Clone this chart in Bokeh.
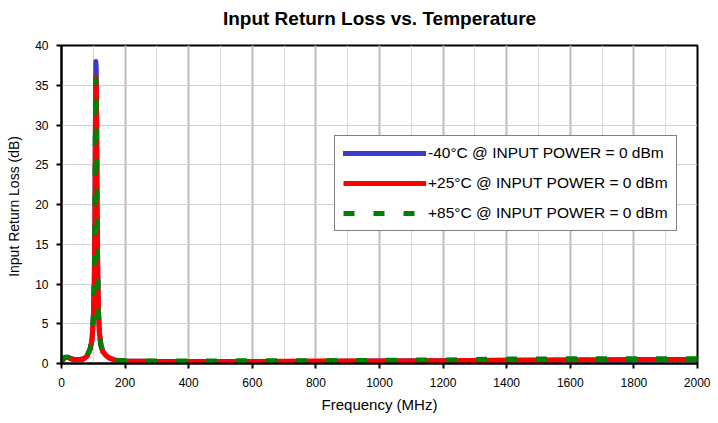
from bokeh.plotting import figure
from bokeh.models import Legend, LegendItem, SingleIntervalTicker, Range1d, Title
from bokeh.embed import file_html
from bokeh.resources import INLINE

title_text = "Input Return Loss vs. Temperature"
x_label = "Frequency (MHz)"
y_label = "Input Return  Loss (dB)"
series_names = ["-40°C @ INPUT POWER = 0 dBm",
                "+25°C @ INPUT POWER = 0 dBm",
                "+85°C @ INPUT POWER = 0 dBm"]

freq_mhz = [0, 5, 10, 20, 30, 40, 50, 60, 70, 80, 90, 96, 100, 103, 105, 106, 107,
            108, 109, 110, 111, 112, 114, 116, 119, 124, 130, 140, 150, 170, 200,
            300, 400, 600, 800, 1000, 1200, 1400, 1600, 1800, 2000]

rl_m40 = [0.2, 0.5, 0.7, 0.8, 0.6, 0.5, 0.5, 0.5, 0.6, 0.9, 1.8, 3.0, 5.5, 10.0, 18.0, 26.0, 33.0,
          38.0, 37.5, 35.0, 28.0, 20.0, 12.0, 7.0, 4.0, 2.4, 1.5, 1.0, 0.7, 0.4, 0.3,
          0.25, 0.2, 0.2, 0.25, 0.3, 0.35, 0.4, 0.45, 0.45, 0.5]

rl_p25 = [0.2, 0.5, 0.7, 0.8, 0.6, 0.5, 0.5, 0.5, 0.6, 0.9, 1.8, 3.0, 5.5, 10.0, 17.0, 25.0, 32.0,
          36.0, 35.5, 33.0, 27.0, 19.0, 11.5, 6.8, 3.9, 2.3, 1.5, 1.0, 0.7, 0.4, 0.3,
          0.25, 0.25, 0.25, 0.3, 0.3, 0.35, 0.4, 0.45, 0.5, 0.5]

rl_p85 = [0.3, 0.6, 0.8, 0.8, 0.6, 0.5, 0.5, 0.5, 0.6, 0.9, 1.9, 3.2, 6.0, 11.0, 19.0, 27.0, 33.0,
          36.0, 34.0, 30.0, 25.0, 18.0, 11.0, 6.5, 3.8, 2.2, 1.4, 0.9, 0.7, 0.4, 0.3,
          0.3, 0.3, 0.35, 0.35, 0.4, 0.45, 0.55, 0.6, 0.6, 0.6]

FONT = "Liberation Sans"

p = figure(width=710, height=415, output_backend="svg", toolbar_location=None,
           x_range=Range1d(0, 2000), y_range=Range1d(0, 40),
           min_border_left=61, min_border_right=13, min_border_top=45, min_border_bottom=51,
           title=None)

# spacer between frame and title (first item in "above" sits nearest the frame)
spacer = Title(text=" ", text_font=FONT, text_font_size="1px", standoff=14)
p.add_layout(spacer, "above")
main_title = Title(text=title_text, align="center", vertical_align="bottom", standoff=0,
                   text_font=FONT, text_font_size="19px", text_font_style="bold",
                   text_color="black")
p.add_layout(main_title, "above")

p.outline_line_color = "black"
p.outline_line_width = 2
p.background_fill_color = "white"
p.border_fill_color = "white"

p.xaxis.ticker = SingleIntervalTicker(interval=200, num_minor_ticks=2)
p.yaxis.ticker = SingleIntervalTicker(interval=5, num_minor_ticks=0)

for ax in (p.xaxis[0], p.yaxis[0]):
    ax.axis_line_color = "black"
    ax.axis_line_width = 2
    ax.major_tick_line_color = "black"
    ax.major_tick_line_width = 2
    ax.major_tick_out = 5
    ax.major_tick_in = 0
    ax.minor_tick_out = 0
    ax.minor_tick_in = 0
    ax.major_label_text_font = FONT
    ax.major_label_text_font_size = "12px"
    ax.major_label_text_color = "black"
    ax.axis_label_text_font = FONT
    ax.axis_label_text_font_style = "normal"
    ax.axis_label_text_color = "black"

p.xaxis.axis_label = x_label
p.yaxis.axis_label = y_label
p.xaxis.axis_label_text_font_size = "15px"
p.yaxis.axis_label_text_font_size = "14px"
p.xaxis.major_label_standoff = 9
p.xaxis.axis_label_standoff = 6
p.yaxis.major_label_standoff = 8
p.yaxis.axis_label_standoff = 10

p.xgrid.grid_line_color = "#bdbdbd"
p.xgrid.grid_line_width = 2
p.xgrid.minor_grid_line_color = "#dadada"
p.xgrid.minor_grid_line_width = 1
p.ygrid.grid_line_color = "#d0d0d0"
p.ygrid.grid_line_width = 1

r1 = p.line(freq_mhz, rl_m40, line_color="#3a3acc", line_width=5, line_cap="round", line_join="round")
r2 = p.line(freq_mhz, rl_p25, line_color="#ff0000", line_width=5, line_join="round")
r3 = p.line(freq_mhz, rl_p85, line_color="#008000", line_width=5, line_dash="11 19")

legend = Legend(items=[LegendItem(label=series_names[0], renderers=[r1]),
                       LegendItem(label=series_names[1], renderers=[r2]),
                       LegendItem(label=series_names[2], renderers=[r3])],
                location=(273, 132), orientation="vertical",
                border_line_color="black", border_line_width=1,
                background_fill_color="white", background_fill_alpha=1.0,
                label_text_font=FONT, label_text_font_size="15.5px", label_text_color="black",
                glyph_width=83, glyph_height=18, label_height=18, label_standoff=2,
                spacing=12, padding=8, margin=0)
p.add_layout(legend, "center")

open("out.html", "w").write(file_html(p, INLINE))
